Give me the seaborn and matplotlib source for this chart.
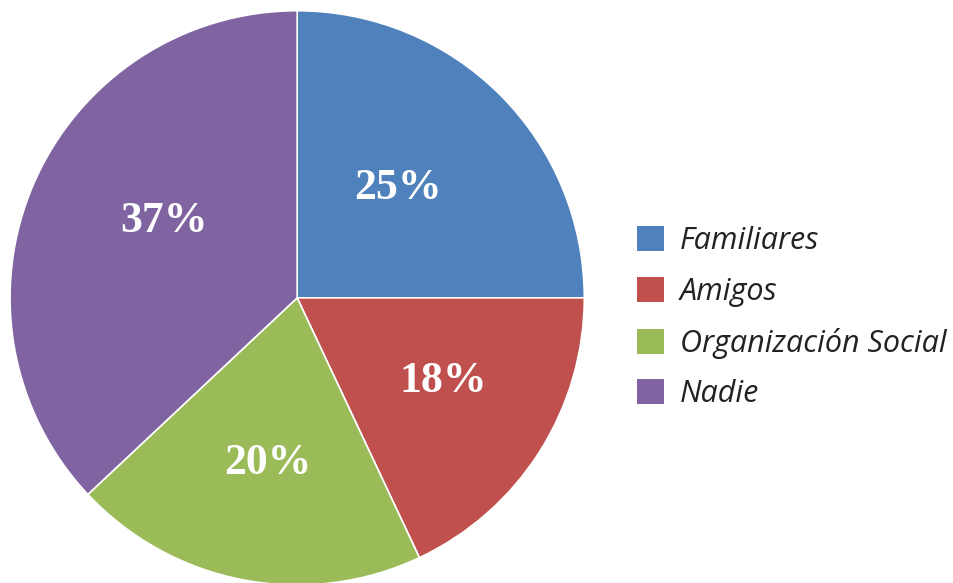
import matplotlib
matplotlib.use("Agg")
import matplotlib.pyplot as plt
import numpy as np
import seaborn as sns

categories = ["Familiares", "Amigos", "Organización Social", "Nadie"]
values = [25, 18, 20, 37]
colors = ["#4F81BD", "#C0504D", "#9BBB59", "#8064A2"]
label_radius = [0.52, 0.584, 0.584, 0.535]
label_angle_shift = [2.3, 2.7, 0.8, -6.6]

sns.set_theme(style="white")
plt.rcParams["font.family"] = ["DejaVu Sans"]

fig = plt.figure(figsize=(9.54, 5.83), dpi=100)
ax = fig.add_axes([0.0105, -0.0034, 0.602, 0.985])

wedges, texts, autotexts = ax.pie(
    values,
    colors=colors,
    startangle=90,
    counterclock=False,
    autopct=lambda p: f"{p:.0f}%",
    pctdistance=0.55,
    wedgeprops=dict(linewidth=1.2, edgecolor="white"),
    textprops=dict(color="white", fontsize=31.5, fontweight="bold",
                   family="Liberation Serif"),
)
for w, t, r, s in zip(wedges, autotexts, label_radius, label_angle_shift):
    ang = np.deg2rad((w.theta1 + w.theta2) / 2 + s)
    t.set_position((r * np.cos(ang), r * np.sin(ang)))

ax.set_aspect("equal")
ax.set_xlim(-1, 1)
ax.set_ylim(-1, 1)

leg = fig.legend(
    wedges, categories,
    loc="center left",
    bbox_to_anchor=(0.639, 0.455),
    frameon=False,
    prop=dict(family="Open Sans", style="italic", size=22),
    handlelength=0.88, handleheight=0.88,
    handletextpad=0.52,
    labelspacing=0.68,
    labelcolor="#222222",
)
for h in leg.legend_handles:
    h.set_edgecolor("none")

fig.savefig("out.png", dpi=100)
